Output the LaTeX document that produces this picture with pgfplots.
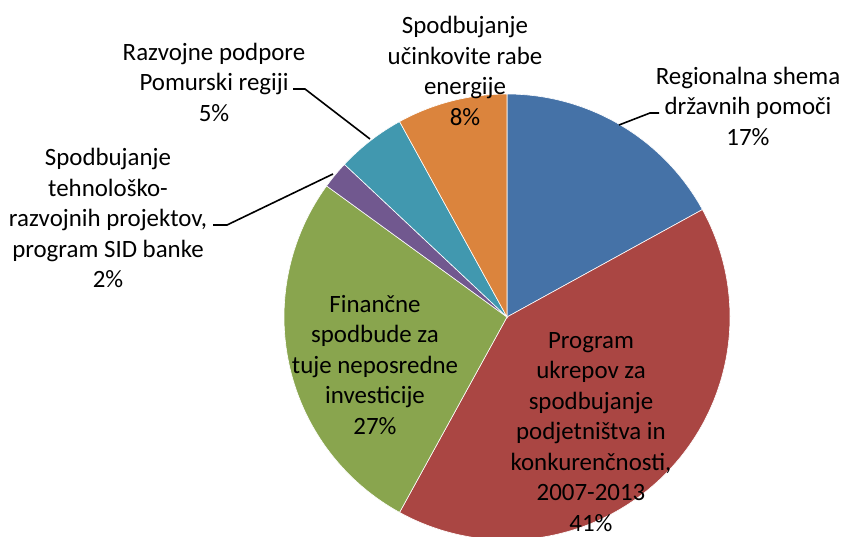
\documentclass[border=0pt]{standalone}
\usepackage{pgfplots}
\pgfplotsset{compat=1.18}
\usepackage{fontspec}
\setmainfont{Carlito}
\definecolor{sblue}{HTML}{4572A7}
\definecolor{sred}{HTML}{AA4643}
\definecolor{sgreen}{HTML}{89A54E}
\definecolor{spurple}{HTML}{71588F}
\definecolor{saqua}{HTML}{4198AF}
\definecolor{sorange}{HTML}{DB843D}
\tikzset{lbl/.style={font=\fontsize{12.45pt}{15.25pt}\selectfont, align=center, inner sep=0pt}}
\begin{document}
\begin{tikzpicture}
\begin{axis}[name=ax, x=0.5pt, y=0.5pt, scale only axis, hide axis,
  xmin=0, xmax=844, ymin=0, ymax=536, clip=true]
% shares (percent): 17, 41, 27, 2, 5, 8 ; start at 90 deg, clockwise
\addplot[fill=sblue, draw=white, line width=0.3pt, domain=28.8:90, samples=60] ({507+223*cos(x)}, {219+223*sin(x)}) -- (axis cs:507,219) -- cycle;
\addplot[fill=sred, draw=white, line width=0.3pt, domain=-118.8:28.8, samples=120] ({507+223*cos(x)}, {219+223*sin(x)}) -- (axis cs:507,219) -- cycle;
\addplot[fill=sgreen, draw=white, line width=0.3pt, domain=144:241.2, samples=90] ({507+223*cos(x)}, {219+223*sin(x)}) -- (axis cs:507,219) -- cycle;
\addplot[fill=spurple, draw=white, line width=0.3pt, domain=136.8:144, samples=10] ({507+223*cos(x)}, {219+223*sin(x)}) -- (axis cs:507,219) -- cycle;
\addplot[fill=saqua, draw=white, line width=0.3pt, domain=118.8:136.8, samples=20] ({507+223*cos(x)}, {219+223*sin(x)}) -- (axis cs:507,219) -- cycle;
\addplot[fill=sorange, draw=white, line width=0.3pt, domain=90:118.8, samples=30] ({507+223*cos(x)}, {219+223*sin(x)}) -- (axis cs:507,219) -- cycle;
% leader lines
\addplot[black, line width=0.8pt, mark=none] coordinates {(619,411) (650,423) (659,423)};
\addplot[black, line width=0.8pt, mark=none] coordinates {(293,447) (305,447) (370,397)};
\addplot[black, line width=0.8pt, mark=none] coordinates {(213,311) (227,311) (333,362)};
% labels
\node[lbl] at (axis cs:465,465) {Spodbujanje\\učinkovite rabe\\energije\\8\%};
\node[lbl] at (axis cs:748,430) {Regionalna shema\\državnih pomoči\\17\%};
\node[lbl] at (axis cs:214,454) {Razvojne podpore\\Pomurski regiji\\5\%};
\node[lbl] at (axis cs:108,318) {Spodbujanje\\tehnološko-\\razvojnih projektov,\\program SID banke\\2\%};
\node[lbl] at (axis cs:375,171) {Finančne\\spodbude za\\tuje neposredne\\investicije\\27\%};
\node[lbl] at (axis cs:591,104) {Program\\ukrepov za\\spodbujanje\\podjetništva in\\konkurenčnosti,\\2007-2013\\41\%};
\end{axis}
\pgfresetboundingbox
\path[use as bounding box] (ax.south west) rectangle (ax.north east);
\end{tikzpicture}
\end{document}
